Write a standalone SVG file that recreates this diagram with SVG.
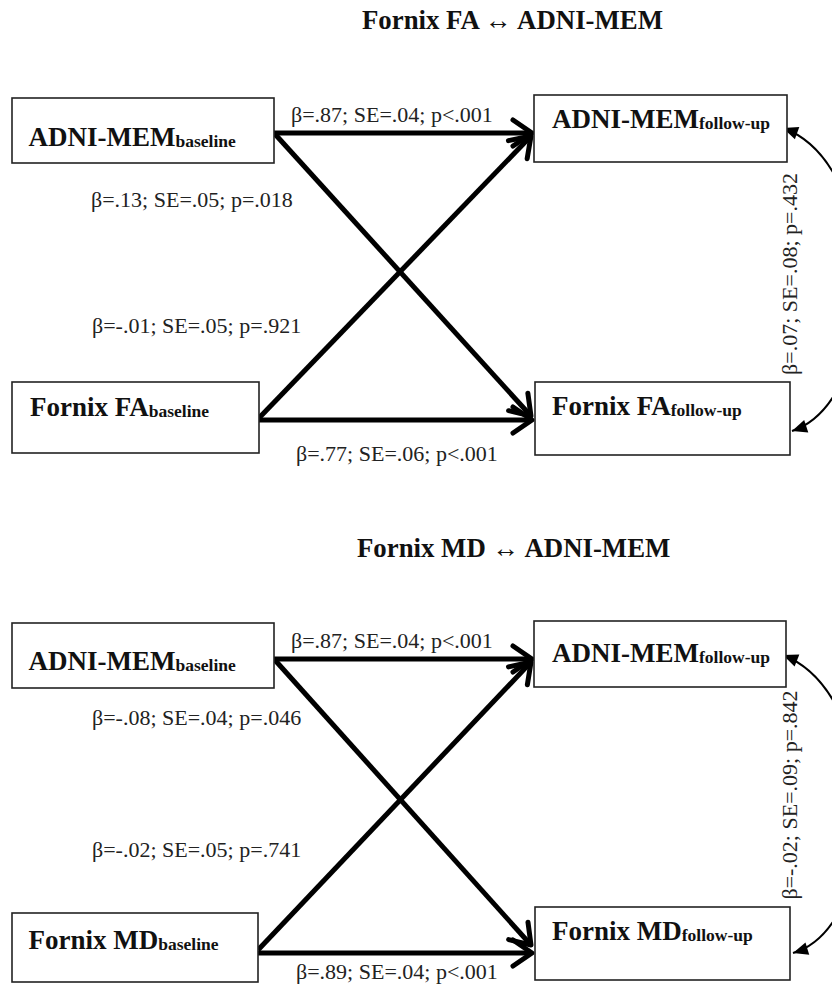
<svg xmlns="http://www.w3.org/2000/svg" width="832" height="984" viewBox="0 0 832 984">
<style>
.box{fill:#fff;stroke:#222;stroke-width:1.6}
.nl{font-family:"Liberation Serif","Times New Roman",serif;font-weight:bold;font-size:27px;fill:#111}
.sub{font-size:17.5px}
.ttl{font-family:"Liberation Serif","Times New Roman",serif;font-weight:bold;font-size:26.8px;fill:#111}
.lab{font-family:"Liberation Serif","Times New Roman",serif;font-size:22px;fill:#222}
.path{stroke:#000;stroke-width:5;fill:none;marker-end:url(#open)}
.cov{stroke:#000;stroke-width:2;fill:none;marker-start:url(#tri);marker-end:url(#tri)}
</style>
<defs>
<marker id="open" markerUnits="userSpaceOnUse" viewBox="-26 -18 30 36" refX="0" refY="0" markerWidth="30" markerHeight="36" orient="auto" overflow="visible">
<path d="M-19,-13 L0,0 L-19,13" fill="none" stroke="#000" stroke-width="5" stroke-linecap="round" stroke-linejoin="round"/>
</marker>
<marker id="tri" markerUnits="userSpaceOnUse" viewBox="-16 -8 18 16" refX="0" refY="0" markerWidth="18" markerHeight="16" orient="auto-start-reverse" overflow="visible">
<path d="M0,0 L-15,-6.5 L-15,6.5 Z" fill="#000"/>
</marker>
</defs>

<text class="ttl" x="362" y="29">Fornix FA ↔ ADNI-MEM</text>
<text class="ttl" x="357" y="557">Fornix MD ↔ ADNI-MEM</text>

<g id="connectors">
<line class="path" x1="274" y1="133" x2="532" y2="133"/>
<line class="path" x1="274" y1="133" x2="531" y2="416"/>
<line class="path" x1="259" y1="418" x2="531" y2="136"/>
<line class="path" x1="259" y1="420" x2="532" y2="420"/>
<path class="cov" d="M783,128 C885,165 885,400 792,431"/>

<line class="path" x1="274" y1="659" x2="532" y2="659"/>
<line class="path" x1="274" y1="659" x2="531" y2="945"/>
<line class="path" x1="258" y1="950" x2="531" y2="662"/>
<line class="path" x1="258" y1="953" x2="532" y2="953"/>
<path class="cov" d="M783,655 C885,695 885,925 793,953"/>
</g>

<g id="labels">
<text class="lab" x="291" y="122">β=.87; SE=.04; p&lt;.001</text>
<text class="lab" x="91" y="207">β=.13; SE=.05; p=.018</text>
<text class="lab" x="92" y="333">β=-.01; SE=.05; p=.921</text>
<text class="lab" x="296" y="461">β=.77; SE=.06; p&lt;.001</text>
<text class="lab" text-anchor="middle" transform="translate(797,274) rotate(-90)">β=.07; SE=.08; p=.432</text>

<text class="lab" x="291" y="648">β=.87; SE=.04; p&lt;.001</text>
<text class="lab" x="92" y="725">β=-.08; SE=.04; p=.046</text>
<text class="lab" x="92" y="857">β=-.02; SE=.05; p=.741</text>
<text class="lab" x="296" y="979">β=.89; SE=.04; p&lt;.001</text>
<text class="lab" text-anchor="middle" transform="translate(797,795) rotate(-90)">β=-.02; SE=.09; p=.842</text>
</g>

<g id="fa-mem-baseline">
<rect class="box" x="12" y="98" width="262" height="65"/>
<text class="nl" x="28.5" y="146">ADNI-MEM<tspan class="sub" dy="1">baseline</tspan></text>
</g>
<g id="fa-mem-followup">
<rect class="box" x="534" y="95" width="253" height="67"/>
<text class="nl" x="552" y="128">ADNI-MEM<tspan class="sub" dy="1">follow-up</tspan></text>
</g>
<g id="fa-baseline">
<rect class="box" x="12" y="382" width="247" height="71"/>
<text class="nl" x="30" y="416">Fornix FA<tspan class="sub" dy="1">baseline</tspan></text>
</g>
<g id="fa-followup">
<rect class="box" x="535" y="382" width="255" height="73"/>
<text class="nl" x="552" y="415">Fornix FA<tspan class="sub" dy="1">follow-up</tspan></text>
</g>

<g id="md-mem-baseline">
<rect class="box" x="12" y="623" width="262" height="65"/>
<text class="nl" x="28.5" y="670">ADNI-MEM<tspan class="sub" dy="1">baseline</tspan></text>
</g>
<g id="md-mem-followup">
<rect class="box" x="534" y="621" width="252" height="66"/>
<text class="nl" x="552" y="662">ADNI-MEM<tspan class="sub" dy="1">follow-up</tspan></text>
</g>
<g id="md-baseline">
<rect class="box" x="12" y="913" width="246" height="69"/>
<text class="nl" x="28.5" y="949">Fornix MD<tspan class="sub" dy="1">baseline</tspan></text>
</g>
<g id="md-followup">
<rect class="box" x="535" y="907" width="255" height="73"/>
<text class="nl" x="552" y="940">Fornix MD<tspan class="sub" dy="1">follow-up</tspan></text>
</g>
</svg>
